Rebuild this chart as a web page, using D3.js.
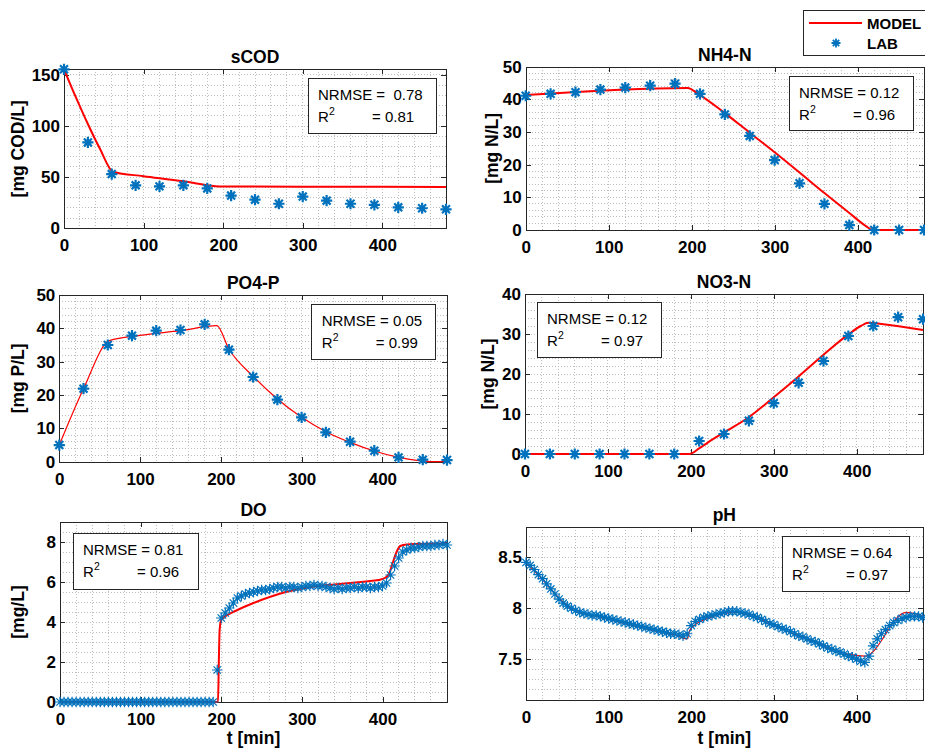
<!DOCTYPE html>
<html>
<head>
<meta charset="utf-8">
<script src="https://cdn.jsdelivr.net/npm/d3@7"></script>
<style>
  body { margin: 0; background: #fff; }
  svg { display: block; }
  text { white-space: pre; }
</style>
</head>
<body>
<svg id="fig" width="925" height="750"></svg>
<script>
// ---------- Grab samples (every 30 min) ----------
const sampleTimes = [0, 30, 60, 90, 120, 150, 180, 210, 240, 270, 300, 330, 360, 390, 420, 450, 480];

const scodLab = [155.5, 84, 53, 42, 41, 42, 39, 32, 28, 24, 31, 27, 24, 23, 20.5, 19.6, 18.6];
const nh4Lab  = [41.1, 41.7, 42.2, 43.0, 43.6, 44.2, 44.8, 41.7, 35.4, 28.8, 21.4, 14.3, 8.0, 1.5, 0, 0, 0];
const po4Lab  = [5.0, 21.9, 35.0, 37.8, 39.3, 39.5, 41.2, 33.6, 25.4, 18.6, 13.3, 8.8, 6.0, 3.3, 1.3, 0.6, 0.5];
const no3Lab  = [0, 0, 0, 0, 0, 0, 0, 3.25, 5.0, 8.3, 12.7, 17.8, 23.25, 29.5, 32.0, 34.2, 33.7];

// ---------- Model curves ----------
const scodModelT = [0, 15, 30, 45, 62, 100, 150, 190, 200, 300, 400, 480];
const scodModel  = [155.5, 128, 102, 78, 55, 51, 46, 41.2, 40.9, 40.7, 40.6, 40.4];

const nh4ModelT = [0, 195, 210, 240, 270, 300, 330, 360, 390, 410, 418, 480];
const nh4Model  = [41.3, 43.5, 41.3, 35.8, 29.8, 23.8, 17.6, 11.3, 5.2, 1.2, 0, 0];

const po4ModelT = [0, 30, 62, 100, 150, 195, 210, 240, 270, 300, 330, 360, 390, 420, 450, 462, 480];
const po4Model  = [5, 21.9, 36.3, 37.9, 39.3, 40.8, 33.8, 25.6, 18.8, 13.3, 9.0, 5.8, 3.2, 1.3, 0.2, 0, 0];

const no3ModelT = [0, 198, 210, 220, 240, 270, 300, 330, 360, 390, 405, 414, 430, 480];
const no3Model  = [0, 0, 1.4, 2.8, 5.4, 9.2, 14.2, 19.4, 24.8, 29.9, 32.0, 32.8, 32.5, 31.0];

const doModelT = [0, 196, 197, 198, 200, 210, 220, 240, 260, 280, 300, 320, 340, 360, 380, 395, 403, 408, 413, 418, 422, 430, 480];
const doModel  = [0, 0, 2.0, 3.6, 4.1, 4.4, 4.6, 4.95, 5.25, 5.5, 5.68, 5.8, 5.88, 5.95, 6.03, 6.1, 6.2, 6.4, 7.0, 7.55, 7.8, 7.88, 7.92];

const phModelT = [0, 20, 40, 60, 80, 100, 120, 140, 160, 180, 195, 198, 205, 220, 240, 255, 270, 290, 310, 330, 350, 370, 390, 410, 460, 480];
const phModel  = [8.45, 8.28, 8.1, 7.97, 7.93, 7.89, 7.85, 7.81, 7.77, 7.74, 7.70, 7.78, 7.84, 7.9, 7.95, 7.96, 7.93, 7.87, 7.8, 7.73, 7.67, 7.6, 7.55, 7.53, 7.96, 7.92];

// ---------- Online probes (every 5 min) ----------
const probeTimes = d3.range(0, 481, 5);

const doLab = [
  0, 0, 0, 0, 0, 0, 0, 0, 0, 0,
  0, 0, 0, 0, 0, 0, 0, 0, 0, 0,
  0, 0, 0, 0, 0, 0, 0, 0, 0, 0,
  0, 0, 0, 0, 0, 0, 0, 0, 0,
  1.6, 4.2, 4.45, 4.7, 4.95, 5.2, 5.3, 5.4, 5.45, 5.5,
  5.55, 5.6, 5.6, 5.65, 5.7, 5.75, 5.75, 5.7, 5.75, 5.75,
  5.7, 5.75, 5.8, 5.8, 5.85, 5.8, 5.8, 5.75, 5.7, 5.65,
  5.7, 5.65, 5.7, 5.7, 5.75, 5.7, 5.75, 5.75, 5.7, 5.75,
  5.75, 5.8, 5.95, 6.35, 6.8, 7.2, 7.5, 7.6, 7.7, 7.7,
  7.75, 7.8, 7.8, 7.8, 7.85, 7.85, 7.9, 7.85
];

const phLab = [
  8.45, 8.42, 8.38, 8.33, 8.29, 8.24, 8.19, 8.14, 8.09, 8.05,
  8.02, 8.00, 7.98, 7.96, 7.95, 7.94, 7.93, 7.93, 7.92, 7.91,
  7.90, 7.89, 7.88, 7.87, 7.86, 7.85, 7.84, 7.83, 7.82, 7.81,
  7.80, 7.79, 7.78, 7.77, 7.76, 7.75, 7.75, 7.74, 7.73, 7.75,
  7.83, 7.87, 7.89, 7.91, 7.92, 7.93, 7.94, 7.95, 7.96, 7.97,
  7.97, 7.97, 7.96, 7.95, 7.94, 7.92, 7.91, 7.89, 7.87, 7.85,
  7.84, 7.82, 7.80, 7.79, 7.77, 7.75, 7.73, 7.72, 7.70, 7.68,
  7.67, 7.65, 7.63, 7.61, 7.60, 7.58, 7.57, 7.55, 7.53, 7.52,
  7.50, 7.48, 7.47, 7.53, 7.63, 7.70, 7.75, 7.79, 7.83, 7.86,
  7.88, 7.90, 7.91, 7.92, 7.92, 7.92, 7.91
];

// ---------- Axis ticks ----------
const timeTicks = [0, 100, 200, 300, 400];

// ---------- Styling ----------
const FONT = '"Liberation Sans", Arial, Helvetica, sans-serif';
const BLUE = '#0072BD';
const RED = '#FF0000';
const AXIS = '#262626';
const GRID = '#bdbdbd';
const TICK_FS = 17;

const panels = [
  { title: 'sCOD', ylabel: '[mg COD/L]', box: [64, 69.3, 446, 228.3], ydom: [0, 155.5],
    yticks: [0, 50, 100, 150], yminor: 10, labelX: 18,
    model: [scodModelT, scodModel], lab: [sampleTimes, scodLab], lw: 2, mr: 5.6, mw: 2.2,
    stats: { x: 308, y: 78.3, w: 128, h: 55, nrmse: '0.78', r2: '0.81', gap: '  ' } },
  { title: 'NH4-N', ylabel: '[mg N/L]', box: [525.7, 66.7, 924, 230], ydom: [0, 50],
    yticks: [0, 10, 20, 30, 40, 50], yminor: 2, labelX: 492,
    model: [nh4ModelT, nh4Model], lab: [sampleTimes, nh4Lab], lw: 2, mr: 5.6, mw: 2.2,
    stats: { x: 789, y: 76, w: 124, h: 54, nrmse: '0.12', r2: '0.96', gap: ' ' } },
  { title: 'PO4-P', ylabel: '[mg P/L]', box: [59.3, 295, 447, 461.7], ydom: [0, 50],
    yticks: [0, 10, 20, 30, 40, 50], yminor: 2, labelX: 18,
    model: [po4ModelT, po4Model], lab: [sampleTimes, po4Lab], lw: 1.2, mr: 5.6, mw: 2.2,
    stats: { x: 311.7, y: 304.3, w: 123.5, h: 55.7, nrmse: '0.05', r2: '0.99', gap: ' ' } },
  { title: 'NO3-N', ylabel: '[mg N/L]', box: [525, 294, 923, 454], ydom: [0, 40],
    yticks: [0, 10, 20, 30, 40], yminor: 2, labelX: 488,
    model: [no3ModelT, no3Model], lab: [sampleTimes, no3Lab], lw: 2, mr: 5.6, mw: 2.2,
    stats: { x: 537, y: 302, w: 124, h: 55, nrmse: '0.12', r2: '0.97', gap: ' ' } },
  { title: 'DO', ylabel: '[mg/L]', box: [60, 522, 447, 702], ydom: [0, 9],
    yticks: [0, 2, 4, 6, 8], yminor: 0.5, labelX: 18, xlabel: 't [min]',
    model: [doModelT, doModel], lab: [probeTimes, doLab], lw: 2, mr: 5.2, mw: 1.2,
    stats: { x: 73, y: 533, w: 125, h: 56, nrmse: '0.81', r2: '0.96', gap: ' ' } },
  { title: 'pH', ylabel: null, box: [526, 526.7, 922.7, 700], ydom: [7.1, 8.8],
    yticks: [7.5, 8, 8.5], yminor: 0.1, labelX: null, xlabel: 't [min]',
    model: [phModelT, phModel], lab: [probeTimes, phLab], lw: 1.2, mr: 5.2, mw: 1.2,
    stats: { x: 782, y: 536, w: 127, h: 55, nrmse: '0.64', r2: '0.97', gap: ' ' } }
];

const svg = d3.select('#fig').attr('font-family', FONT);

// MATLAB-style asterisk marker: a plus and a cross of equal arm length
function asterisk(r) {
  const d = r * Math.SQRT1_2;
  return `M${-r},0H${r}M0,${-r}V${r}M${-d},${-d}L${d},${d}M${-d},${d}L${d},${-d}`;
}

function gridValues(lo, hi, step) {
  const out = [];
  for (let v = Math.ceil(lo / step - 1e-9) * step; v <= hi + 1e-9; v += step) out.push(+v.toFixed(6));
  return out;
}

panels.forEach(p => {
  const [x0, y0, x1, y1] = p.box;
  const xs = d3.scaleLinear().domain([0, 480]).range([x0, x1]);
  const ys = d3.scaleLinear().domain(p.ydom).range([y1, y0]);
  const g = svg.append('g');

  // dotted grid (major and minor)
  const grid = g.append('g').attr('stroke', GRID).attr('stroke-width', 1)
    .attr('stroke-dasharray', '1,2').attr('shape-rendering', 'crispEdges');
  grid.selectAll('line.gx').data(gridValues(0, 480, 20).filter(v => v > 0 && v < 480)).join('line')
    .attr('x1', d => xs(d)).attr('x2', d => xs(d)).attr('y1', y0).attr('y2', y1);
  grid.selectAll('line.gy').data(gridValues(p.ydom[0], p.ydom[1], p.yminor)
      .filter(v => ys(v) < y1 - 0.5 && ys(v) > y0 + 0.5)).join('line')
    .attr('y1', d => ys(d)).attr('y2', d => ys(d)).attr('x1', x0).attr('x2', x1);

  // axes on all four sides, ticks pointing inward
  const styleAxis = a => {
    a.attr('color', AXIS).attr('font-family', FONT).attr('font-size', TICK_FS).attr('font-weight', 'bold');
    a.select('.domain').attr('stroke', AXIS).attr('shape-rendering', 'crispEdges');
    a.selectAll('.tick line').attr('shape-rendering', 'crispEdges');
    a.selectAll('.tick text').attr('fill', '#000');
  };
  g.append('g').attr('transform', `translate(0,${y1})`)
    .call(d3.axisBottom(xs).tickValues(timeTicks).tickSizeInner(-5).tickSizeOuter(0).tickPadding(10.8))
    .call(styleAxis);
  g.append('g').attr('transform', `translate(0,${y0})`)
    .call(d3.axisTop(xs).tickValues(timeTicks).tickSizeInner(-5).tickSizeOuter(0).tickFormat(''))
    .call(styleAxis);
  g.append('g').attr('transform', `translate(${x0},0)`)
    .call(d3.axisLeft(ys).tickValues(p.yticks).tickSizeInner(-5).tickSizeOuter(0).tickPadding(4)
      .tickFormat(d3.format('~g')))
    .call(styleAxis);
  g.append('g').attr('transform', `translate(${x1},0)`)
    .call(d3.axisRight(ys).tickValues(p.yticks).tickSizeInner(-5).tickSizeOuter(0).tickFormat(''))
    .call(styleAxis);

  // model curve
  const [mt, mv] = p.model;
  const line = d3.line().x(i => xs(mt[i])).y(i => ys(mv[i])).curve(d3.curveMonotoneX);
  g.append('path').attr('d', line(d3.range(mt.length)))
    .attr('fill', 'none').attr('stroke', RED).attr('stroke-width', p.lw)
    .attr('stroke-linejoin', 'round');

  // measurements
  const [lt, lv] = p.lab;
  g.append('g').selectAll('path').data(d3.range(lt.length)).join('path')
    .attr('d', asterisk(p.mr))
    .attr('transform', i => `translate(${xs(lt[i])},${ys(lv[i])})`)
    .attr('fill', 'none').attr('stroke', BLUE).attr('stroke-width', p.mw);

  // title
  g.append('text').attr('x', (x0 + x1) / 2).attr('y', y0 - 6)
    .attr('text-anchor', 'middle').attr('font-size', 17.5).attr('font-weight', 'bold')
    .text(p.title);

  // y label
  if (p.ylabel) {
    g.append('text')
      .attr('transform', `translate(${p.labelX + 6},${(y0 + y1) / 2}) rotate(-90)`)
      .attr('text-anchor', 'middle').attr('font-size', 17.5).attr('font-weight', 'bold')
      .text(p.ylabel);
  }
  // x label
  if (p.xlabel) {
    g.append('text').attr('x', (x0 + x1) / 2).attr('y', 744)
      .attr('text-anchor', 'middle').attr('font-size', 17.5).attr('font-weight', 'bold')
      .text(p.xlabel);
  }

  // goodness-of-fit box
  const s = p.stats;
  const sb = g.append('g').attr('transform', `translate(${s.x},${s.y})`);
  sb.append('rect').attr('width', s.w).attr('height', s.h)
    .attr('fill', '#fff').attr('stroke', AXIS).attr('stroke-width', 1)
    .attr('shape-rendering', 'crispEdges');
  sb.append('text').attr('x', 10).attr('y', 21.5).attr('font-size', 15)
    .text(`NRMSE =${s.gap}${s.nrmse}`);
  sb.append('text').attr('x', 10).attr('y', 44).attr('font-size', 15).text('R');
  sb.append('text').attr('x', 21).attr('y', 37).attr('font-size', 10.5).text('2');
  sb.append('text').attr('x', 64).attr('y', 44).attr('font-size', 15).text(`= ${s.r2}`);
});

// legend
const lg = svg.append('g');
lg.append('rect').attr('x', 803).attr('y', 10).attr('width', 160).attr('height', 45)
  .attr('fill', '#fff').attr('stroke', AXIS).attr('stroke-width', 1).attr('shape-rendering', 'crispEdges');
lg.append('line').attr('x1', 809).attr('x2', 862).attr('y1', 23).attr('y2', 23)
  .attr('stroke', RED).attr('stroke-width', 2);
lg.append('path').attr('d', asterisk(4.5)).attr('transform', 'translate(836,43)')
  .attr('fill', 'none').attr('stroke', BLUE).attr('stroke-width', 1.8);
lg.append('text').attr('x', 867).attr('y', 28.5).attr('font-size', 15).attr('font-weight', 'bold').text('MODEL');
lg.append('text').attr('x', 867).attr('y', 48.5).attr('font-size', 15).attr('font-weight', 'bold').text('LAB');
</script>
</body>
</html>
